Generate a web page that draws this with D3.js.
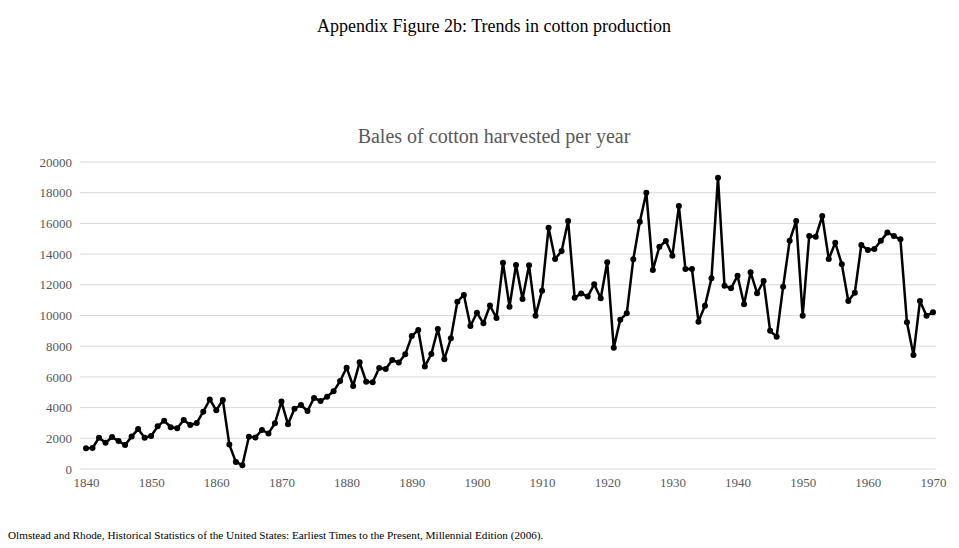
<!DOCTYPE html>
<html>
<head>
<meta charset="utf-8">
<script src="https://cdn.jsdelivr.net/npm/d3@7"></script>
<style>
  body { margin: 0; background: #fff; }
  svg { display: block; }
  svg text { font-family: "Liberation Serif", "Times New Roman", serif; }
</style>
</head>
<body>
<div id="chart"></div>
<script>
// Years 1840..1970, one value per year (bales, thousands)
const startYear = 1840;
const bales = [
  1350, 1370, 2040, 1710, 2080, 1820, 1560, 2110, 2600, 2040,
  2150, 2780, 3150, 2720, 2650, 3190, 2870, 3000, 3730, 4530,
  3820, 4500, 1590, 460, 250, 2100, 2060, 2540, 2320, 2980,
  4390, 2910, 3930, 4170, 3780, 4630, 4430, 4710, 5060, 5730,
  6600, 5410, 6950, 5690, 5650, 6580, 6510, 7100, 6930, 7470,
  8660, 9060, 6670, 7490, 9120, 7150, 8510, 10900, 11340, 9320,
  10180, 9490, 10650, 9840, 13440, 10575, 13290, 11080, 13270, 9990,
  11620, 15720, 13680, 14200, 16160, 11160, 11440, 11230, 12030, 11120,
  13470, 7900, 9730, 10140, 13660, 16110, 18000, 12960, 14480, 14850,
  13900, 17130, 13030, 13030, 9600, 10640, 12420, 18980, 11940, 11770,
  12590, 10730, 12820, 11450, 12250, 9000, 8620, 11880, 14870, 16160,
  9990, 15180, 15130, 16480, 13680, 14740, 13340, 10950, 11490, 14590,
  14270, 14330, 14870, 15400, 15180, 14960, 9560, 7430, 10950, 9990,
  10210
];
const data = bales.map((v, i) => ({ year: startYear + i, value: v }));

const yTicks = [0, 2000, 4000, 6000, 8000, 10000, 12000, 14000, 16000, 18000, 20000];
const xTicks = [1840, 1850, 1860, 1870, 1880, 1890, 1900, 1910, 1920, 1930, 1940, 1950, 1960, 1970];

const mainTitle = "Appendix Figure 2b: Trends in cotton production";
const chartTitle = "Bales of cotton harvested per year";
const source = "Olmstead and Rhode, Historical Statistics of the United States: Earliest Times to the Present, Millennial Edition (2006).";

const width = 959;
const height = 548;

const svg = d3.select("#chart")
  .append("svg")
  .attr("width", width)
  .attr("height", height);

// scales
const x = d3.scaleLinear()
  .domain([1840, 1970])
  .range([86, 933]);

const y = d3.scaleLinear()
  .domain([0, 20000])
  .range([469, 162]);

// gridlines
svg.append("g")
  .selectAll("line")
  .data(yTicks)
  .enter()
  .append("line")
  .attr("x1", 80)
  .attr("x2", 936)
  .attr("y1", d => y(d))
  .attr("y2", d => y(d))
  .attr("stroke", "#d9d9d9")
  .attr("stroke-width", 1);

// y axis labels
const yAxis = svg.append("g")
  .attr("transform", "translate(72,0)")
  .call(d3.axisLeft(y).tickValues(yTicks).tickSize(0).tickPadding(0).tickFormat(d3.format("d")))
  .attr("font-family", null)
  .attr("font-size", "13px");
yAxis.select(".domain").remove();
yAxis.selectAll("text").attr("fill", "#595959");

// x axis labels
const xAxis = svg.append("g")
  .attr("transform", "translate(0,478)")
  .call(d3.axisBottom(x).tickValues(xTicks).tickSize(0).tickPadding(0).tickFormat(d3.format("d")))
  .attr("font-family", null)
  .attr("font-size", "13px");
xAxis.select(".domain").remove();
xAxis.selectAll("text").attr("fill", "#595959");

// line
const line = d3.line()
  .x(d => x(d.year))
  .y(d => y(d.value));

svg.append("path")
  .datum(data)
  .attr("fill", "none")
  .attr("stroke", "#000")
  .attr("stroke-width", 2.5)
  .attr("stroke-linejoin", "round")
  .attr("d", line);

svg.selectAll(".pt")
  .data(data)
  .enter()
  .append("circle")
  .attr("class", "pt")
  .attr("cx", d => x(d.year))
  .attr("cy", d => y(d.value))
  .attr("r", 3)
  .attr("fill", "#000");

// titles
svg.append("text")
  .attr("x", 494)
  .attr("y", 32)
  .attr("text-anchor", "middle")
  .attr("font-size", "18px")
  .attr("fill", "#000")
  .text(mainTitle);

svg.append("text")
  .attr("x", 494)
  .attr("y", 143)
  .attr("text-anchor", "middle")
  .attr("font-size", "20px")
  .attr("fill", "#595959")
  .text(chartTitle);

svg.append("text")
  .attr("x", 8)
  .attr("y", 539)
  .attr("font-size", "11.2px")
  .attr("fill", "#000")
  .text(source);
</script>
</body>
</html>
